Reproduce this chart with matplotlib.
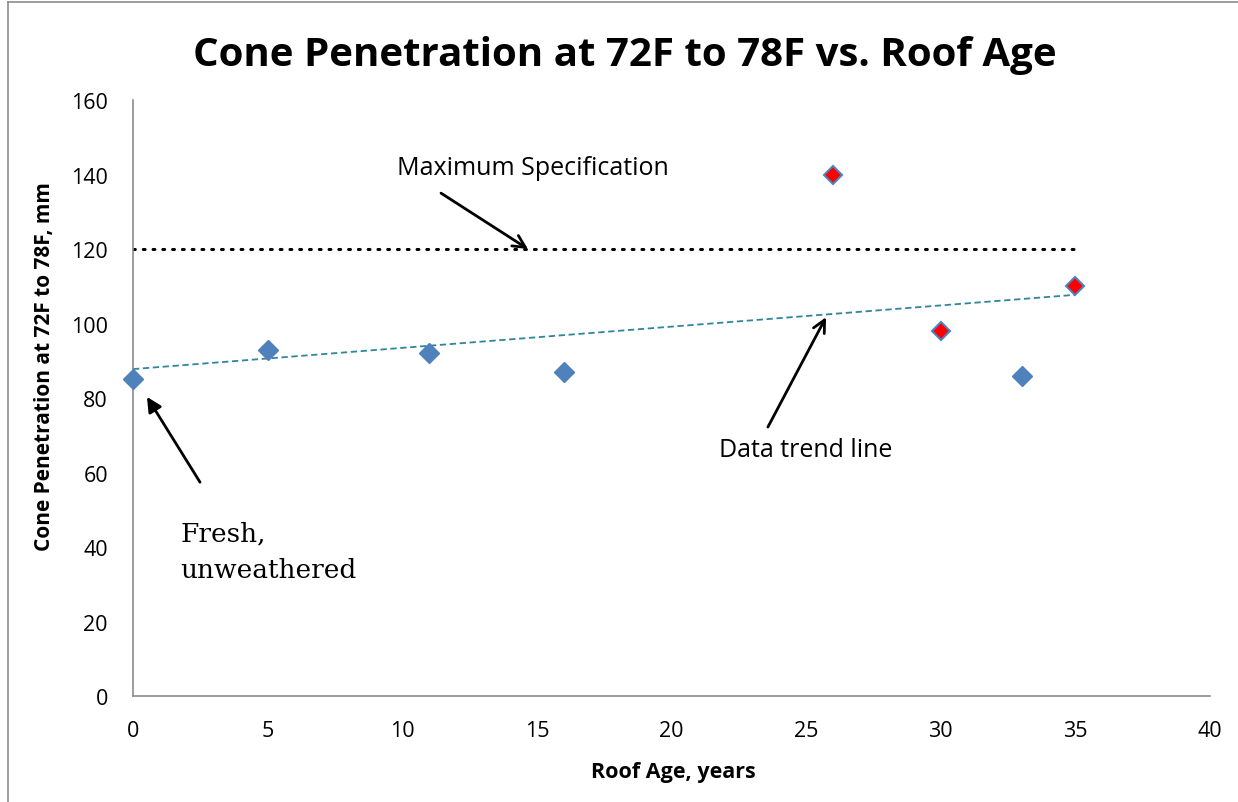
import matplotlib.pyplot as plt
import numpy as np
from matplotlib.lines import Line2D

# data
ages = [0, 5, 11, 16, 26, 30, 33, 35]
penetration = [85, 93, 92, 87, 140, 98, 86, 110]
flagged = [False, False, False, False, True, True, False, True]
max_spec = 120
x_ticks = [0, 5, 10, 15, 20, 25, 30, 35, 40]
y_ticks = [0, 20, 40, 60, 80, 100, 120, 140, 160]

sans = ['Open Sans', 'DejaVu Sans']
serif = ['DejaVu Serif']

fig = plt.figure(figsize=(12.38, 8.03), dpi=100)
ax = fig.add_axes([0.1074, 0.132, 0.870, 0.7422])

# outer chart frame (only left/top visible in the reference)
fig.add_artist(Line2D([8 / 1238, 8 / 1238], [0, 1 - 3 / 803], transform=fig.transFigure, color='#8c8c8c', lw=1.2))
fig.add_artist(Line2D([8 / 1238, 1], [1 - 3 / 803, 1 - 3 / 803], transform=fig.transFigure, color='#8c8c8c', lw=1.2))

# max spec line
ax.plot([0, 35], [max_spec, max_spec], color='black', lw=2.2, linestyle=(0, (0.6, 2.6)), dash_capstyle='round')

# trend line
slope, intercept = np.polyfit(ages, penetration, 1)
tx = np.array([0, 35])
ax.plot(tx, slope * tx + intercept, color='#31859C', lw=1.3, linestyle=(0, (3.5, 2)))

for x, y, f in zip(ages, penetration, flagged):
    if f:
        ax.plot(x, y, marker='D', ms=9.5, mfc='red', mec='#4F81BD', mew=1.5, ls='none', zorder=5, clip_on=False)
    else:
        ax.plot(x, y, marker='D', ms=10.5, mfc='#4F81BD', mec='#4F81BD', ls='none', zorder=5, clip_on=False)

ax.set_xlim(0, 40)
ax.set_ylim(0, 160)
ax.set_xticks(x_ticks)
ax.set_yticks(y_ticks)
ax.tick_params(length=0, labelsize=15.5)
ax.tick_params(axis='x', pad=17)
ax.tick_params(axis='y', pad=18)
for lab in ax.get_xticklabels() + ax.get_yticklabels():
    lab.set_family(sans)
for s in ['top', 'right']:
    ax.spines[s].set_visible(False)
for s in ['left', 'bottom']:
    ax.spines[s].set_color('#8c8c8c')
    ax.spines[s].set_linewidth(1.2)

fig.text(0.5044, 0.9315, 'Cone Penetration at 72F to 78F vs. Roof Age', ha='center', va='center',
         fontsize=29, fontweight='bold', family=sans)
fig.text(0.5436, 0.0386, 'Roof Age, years', ha='center', va='center',
         fontsize=15.5, fontweight='bold', family=sans)
fig.text(0.0363, 0.543, 'Cone Penetration at 72F to 78F, mm', ha='center', va='center', rotation=90,
         fontsize=15, fontweight='bold', family=sans)

# annotations
ax.text(14.86, 142, 'Maximum Specification', ha='center', va='center', fontsize=18, family=sans)
ax.annotate('', xy=(14.67, 120), xytext=(11.44, 135),
            arrowprops=dict(arrowstyle='->', color='black', lw=2, shrinkA=0, shrinkB=0, mutation_scale=22))
ax.text(25.0, 66.3, 'Data trend line', ha='center', va='center', fontsize=18, family=sans)
ax.annotate('', xy=(25.74, 101.7), xytext=(23.58, 72.2),
            arrowprops=dict(arrowstyle='->', color='black', lw=2, shrinkA=0, shrinkB=0, mutation_scale=22))
ax.annotate('', xy=(0.52, 80.3), xytext=(2.49, 57.4),
            arrowprops=dict(arrowstyle='-|>', color='black', lw=2, shrinkA=0, shrinkB=0, mutation_scale=22))
ax.text(1.75, 38.9, 'Fresh,\nunweathered', ha='left', va='center', fontsize=19, family=serif, linespacing=1.55)

fig.savefig('out.png', dpi=100)
